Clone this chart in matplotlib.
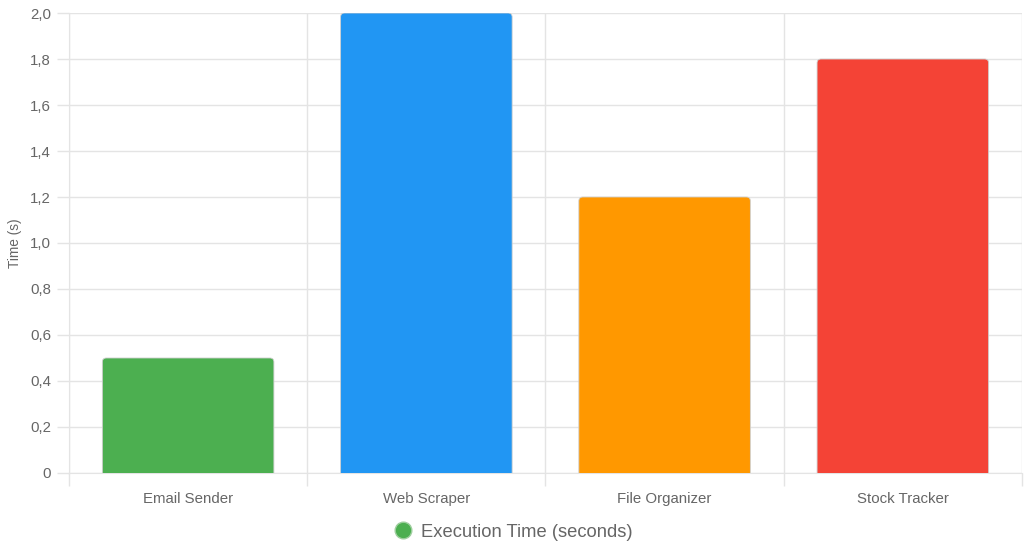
import matplotlib
matplotlib.use("Agg")
import matplotlib.pyplot as plt
from matplotlib.patches import FancyBboxPatch
from matplotlib.lines import Line2D
from matplotlib.ticker import FuncFormatter, MultipleLocator, FixedLocator
import numpy as np

scripts = ["Email Sender", "Web Scraper", "File Organizer", "Stock Tracker"]
exec_time = [0.5, 2.0, 1.2, 1.8]
bar_colors = ["#4CAF50", "#2196F3", "#FF9800", "#F44336"]

GRID = "#e4e4e4"
TEXT = "#666666"

plt.rcParams["font.family"] = ["Liberation Sans", "DejaVu Sans"]

fig = plt.figure(figsize=(10.24, 5.56), dpi=100)
ax = fig.add_axes([0.0674, 0.1493, 0.9306, 0.8273])

x = np.arange(len(scripts))
bar_w = 0.72
ax.set_xlim(-0.5, len(scripts) - 0.5)
ax.set_ylim(0, 2.0)

# px per data unit, for round corners
px_x = 0.9306 * 1024 / len(scripts)
px_y = 0.8273 * 556 / 2.0
rad = 4 / px_x
for xi, v, c in zip(x, exec_time, bar_colors):
    p = FancyBboxPatch((xi - bar_w / 2 + rad, -0.05 + rad * px_x / px_y), bar_w - 2 * rad,
                       v + 0.05 - 2 * rad * px_x / px_y,
                       boxstyle=f"round,pad={rad}", mutation_aspect=px_x / px_y,
                       facecolor=c, edgecolor="#cfcfcf", linewidth=0.6, zorder=3)
    ax.add_patch(p)

ax.yaxis.set_major_locator(MultipleLocator(0.2))
ax.yaxis.set_major_formatter(FuncFormatter(lambda v, _: "0" if abs(v) < 1e-9 else f"{v:.1f}".replace(".", ",")))
ax.set_xticks(x)
ax.set_xticklabels(scripts)
ax.xaxis.set_minor_locator(FixedLocator(np.arange(-0.5, len(scripts), 1.0)))

ax.grid(True, axis="y", which="major", color=GRID, lw=1, zorder=0)
ax.grid(True, axis="x", which="minor", color=GRID, lw=1, zorder=0)
ax.tick_params(axis="x", which="major", length=0, pad=14, labelsize=10.8, labelcolor=TEXT)
ax.tick_params(axis="x", which="minor", length=9, color=GRID, width=1)
ax.tick_params(axis="y", length=9, color=GRID, width=1, pad=4, labelsize=10.8, labelcolor=TEXT)

for s in ["top", "right"]:
    ax.spines[s].set_visible(False)
ax.spines["left"].set_color(GRID)
ax.spines["bottom"].set_color(GRID)

ax.set_ylabel("Time (s)", color=TEXT, fontsize=9.8, labelpad=6)

handle = Line2D([], [], marker="o", linestyle="none", markersize=12,
                markerfacecolor=bar_colors[0], markeredgecolor="#9fcf9f")
fig.legend([handle], ["Execution Time (seconds)"], loc="center", bbox_to_anchor=(0.5, 0.043),
           frameon=False, fontsize=13.2, labelcolor=TEXT, handletextpad=0.4, handlelength=1.2)

fig.savefig("out.png", dpi=100, facecolor="white")
